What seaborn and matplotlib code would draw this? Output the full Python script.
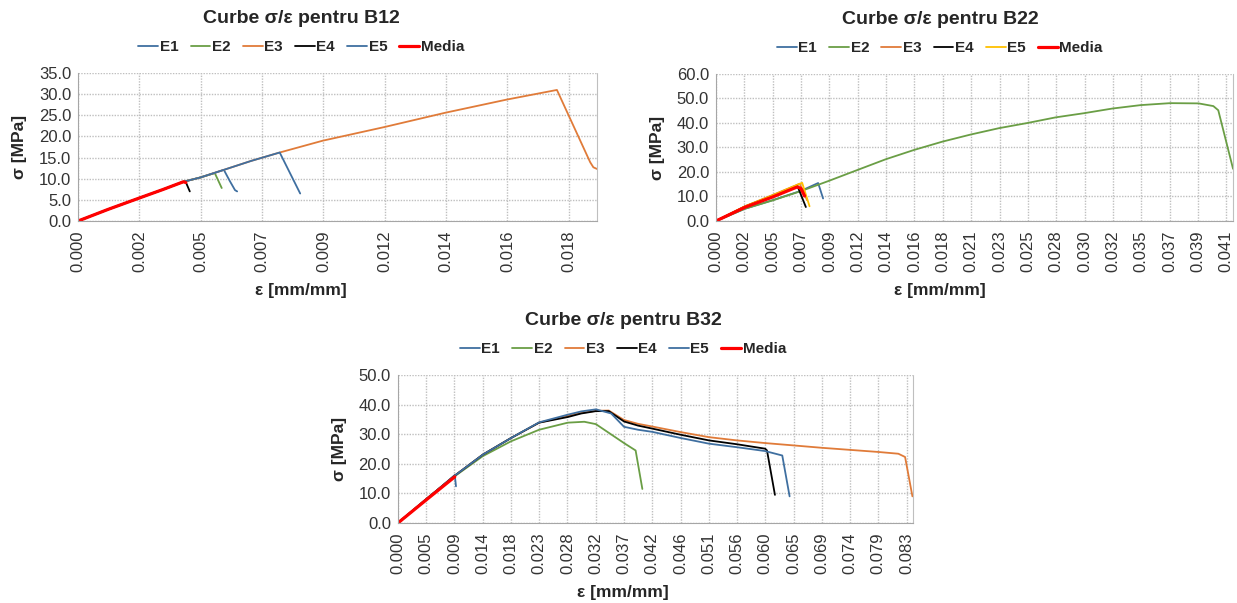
import numpy as np
import pandas as pd
import matplotlib
matplotlib.use('Agg')
import matplotlib.pyplot as plt
import seaborn as sns

# ================= CONFIGURATION =================
sns.set_style("white")
plt.rcParams['font.family'] = ['Liberation Sans', 'DejaVu Sans']

test_names = ['E1', 'E2', 'E3', 'E4', 'E5', 'Media']

# ================= DATA: B12 =================
b12_e1_x = [0, 0.00113, 0.00230, 0.00320, 0.00396, 0.00460, 0.00514, 0.00548, 0.00570, 0.00590, 0.00598]
b12_e1_y = [0, 2.75, 5.43, 7.47, 9.28, 10.3, 11.4, 12.1, 9.5, 7.3, 7.0]
b12_e2_x = [0, 0.00113, 0.00230, 0.00320, 0.00396, 0.00460, 0.00514, 0.00540]
b12_e2_y = [0, 2.75, 5.43, 7.47, 9.28, 10.3, 11.33, 7.8]
b12_e3_x = [0, 0.00113, 0.00230, 0.00320, 0.00396, 0.00460, 0.00514, 0.00548, 0.00650, 0.00758,
            0.00920, 0.01150, 0.01380, 0.01610, 0.01800, 0.01925, 0.01937, 0.01951]
b12_e3_y = [0, 2.75, 5.43, 7.47, 9.28, 10.3, 11.4, 12.1, 14.2, 16.2,
            19.0, 22.2, 25.6, 28.7, 31.0, 13.9, 12.7, 12.3]
b12_e4_x = [0, 0.00113, 0.00230, 0.00320, 0.00396, 0.00405, 0.00420]
b12_e4_y = [0, 2.75, 5.43, 7.47, 9.28, 9.2, 7.0]
b12_e5_x = [0, 0.00113, 0.00230, 0.00320, 0.00396, 0.00460, 0.00514, 0.00548, 0.00650, 0.00758, 0.00835]
b12_e5_y = [0, 2.75, 5.43, 7.47, 9.28, 10.3, 11.4, 12.1, 14.2, 16.2, 6.5]
b12_media_x = [0, 0.00113, 0.00230, 0.00320, 0.00396, 0.00405]
b12_media_y = [0, 2.75, 5.43, 7.47, 9.28, 9.1]
b12_xticklabels = ['0.000', '0.002', '0.005', '0.007', '0.009', '0.012', '0.014', '0.016', '0.018']
b12_xstep = 0.002306
b12_xmax = 0.01951
b12_yticks = [0, 5, 10, 15, 20, 25, 30, 35]

# ================= DATA: B22 =================
b22_e1_x = [0, 0.00235, 0.0046, 0.0069, 0.0083, 0.0087]
b22_e1_y = [0, 5.0, 8.5, 12.3, 15.5, 9.2]
b22_e2_x = [0, 0.00235, 0.0046, 0.0069, 0.00918, 0.01148, 0.01379, 0.01609, 0.0184, 0.0207, 0.0230,
            0.0253, 0.0276, 0.0299, 0.0322, 0.0345, 0.0369, 0.0392, 0.0404, 0.0408, 0.0420]
b22_e2_y = [0, 5.0, 8.4, 12.2, 16.4, 20.8, 25.2, 29.0, 32.4, 35.3, 37.9,
            40.0, 42.3, 44.0, 45.9, 47.3, 48.1, 48.0, 46.9, 45.2, 21.3]
b22_e3_x = [0, 0.00235, 0.0046, 0.0068, 0.0074]
b22_e3_y = [0, 6.0, 10.6, 15.2, 8.5]
b22_e4_x = [0, 0.00235, 0.0046, 0.0066, 0.0073]
b22_e4_y = [0, 5.9, 10.3, 14.5, 5.7]
b22_e5_x = [0, 0.00235, 0.0046, 0.0070, 0.0076]
b22_e5_y = [0, 6.0, 10.5, 15.6, 6.0]
b22_media_x = [0, 0.00235, 0.0046, 0.0066, 0.0069, 0.0072]
b22_media_y = [0, 5.6, 9.8, 13.9, 13.3, 10.2]
b22_xticklabels = ['0.000', '0.002', '0.005', '0.007', '0.009', '0.012', '0.014', '0.016', '0.018', '0.021',
                   '0.023', '0.025', '0.028', '0.030', '0.032', '0.035', '0.037', '0.039', '0.041']
b22_xstep = 0.002303
b22_xmax = 0.0420
b22_yticks = [0, 10, 20, 30, 40, 50, 60]

# ================= DATA: B32 =================
b32_e1_x = [0, 0.0047, 0.0093, 0.0095]
b32_e1_y = [0, 8.0, 16.2, 12.4]
b32_e2_x = [0, 0.0046, 0.0093, 0.0139, 0.0185, 0.0231, 0.0278, 0.0305, 0.0324, 0.0370, 0.0389, 0.0400]
b32_e2_y = [0, 8.0, 15.8, 22.6, 27.6, 31.5, 33.9, 34.2, 33.4, 27.0, 24.5, 11.5]
b32_e3_x = [0, 0.0046, 0.0093, 0.0139, 0.0185, 0.0231, 0.0278, 0.0300, 0.0324, 0.0345, 0.0370, 0.0393,
            0.0416, 0.0463, 0.0509, 0.0555, 0.0601, 0.0648, 0.0694, 0.0740, 0.0786, 0.0819, 0.0830, 0.0842]
b32_e3_y = [0, 8.0, 16.0, 23.1, 28.7, 33.9, 36.2, 37.2, 37.9, 38.0, 34.8, 33.5,
            32.6, 30.7, 29.0, 27.9, 27.0, 26.2, 25.4, 24.7, 24.0, 23.4, 22.3, 9.0]
b32_e4_x = [0, 0.0046, 0.0093, 0.0139, 0.0185, 0.0231, 0.0278, 0.0300, 0.0324, 0.0345, 0.0370, 0.0393,
            0.0416, 0.0463, 0.0509, 0.0555, 0.0601, 0.0604, 0.0617]
b32_e4_y = [0, 8.0, 16.0, 23.1, 28.7, 33.9, 35.8, 37.0, 37.8, 37.8, 34.3, 32.9,
            31.9, 29.8, 27.9, 26.6, 25.1, 24.5, 9.5]
b32_e5_x = [0, 0.0046, 0.0093, 0.0139, 0.0185, 0.0231, 0.0278, 0.0300, 0.0324, 0.0349, 0.0370, 0.0393,
            0.0416, 0.0463, 0.0509, 0.0555, 0.0601, 0.0629, 0.0641]
b32_e5_y = [0, 8.0, 16.0, 23.1, 28.7, 34.0, 36.6, 37.7, 38.4, 37.0, 32.5, 31.5,
            30.8, 28.7, 26.8, 25.6, 24.3, 22.8, 9.0]
b32_media_x = [0, 0.00469, 0.0093]
b32_media_y = [0, 7.9, 15.6]
b32_xticklabels = ['0.000', '0.005', '0.009', '0.014', '0.018', '0.023', '0.028', '0.032', '0.037', '0.042',
                   '0.046', '0.051', '0.056', '0.060', '0.065', '0.069', '0.074', '0.079', '0.083']
b32_xstep = 0.004625
b32_xmax = 0.0843
b32_yticks = [0, 10, 20, 30, 40, 50]

# ================= COLORS =================
blue = '#3F6FA0'
green = '#6A9E45'
orange = '#E07B39'
colors_b12 = {'E1': blue, 'E2': green, 'E3': orange, 'E4': '#000000', 'E5': blue, 'Media': '#FF0000'}
colors_b22 = {'E1': blue, 'E2': green, 'E3': orange, 'E4': '#000000', 'E5': '#FFC000', 'Media': '#FF0000'}
colors_b32 = colors_b12


def build_df(series):
    frames = []
    for name, (xs, ys) in zip(test_names, series):
        frames.append(pd.DataFrame({'strain': xs, 'stress': ys, 'test': name}))
    return pd.concat(frames, ignore_index=True)


def draw_chart(fig, rect, df, colors, title, xticklabels, xstep, xmax, yticks, cx):
    ax = fig.add_axes(rect)
    for name in test_names:
        sub = df[df['test'] == name]
        sns.lineplot(data=sub, x='strain', y='stress', ax=ax, color=colors[name],
                     linewidth=2.3 if name == 'Media' else 1.3, sort=False,
                     estimator=None, label=name)

    ax.set_xlim(0, xmax)
    ax.set_ylim(0, yticks[-1])
    ax.set_xticks(np.arange(len(xticklabels)) * xstep)
    ax.set_xticklabels(xticklabels, rotation=90)
    ax.set_yticks(yticks)
    ax.set_yticklabels([f'{v:.1f}' for v in yticks])
    ax.tick_params(axis='both', labelsize=12, labelcolor='#333333', colors='#A6A6A6')
    ax.tick_params(axis='x', length=4, width=0.8, pad=3)
    ax.tick_params(axis='y', length=0, pad=5)
    ax.grid(True, color='#BFBFBF', linestyle=(0, (1, 1)), linewidth=1.0)
    ax.spines['top'].set_visible(False)
    ax.spines['right'].set_color('#BFBFBF')
    ax.spines['right'].set_linestyle((0, (1, 1)))
    ax.spines['left'].set_color('#A6A6A6')
    ax.spines['bottom'].set_color('#A6A6A6')

    ax.set_xlabel('ε [mm/mm]', fontsize=12.5, fontweight='bold', color='#262626')
    ax.set_ylabel('σ [MPa]', fontsize=12.5, fontweight='bold', color='#262626')
    ax.xaxis.set_label_coords(cx, -0.42)
    ax.yaxis.set_label_coords(-0.098, 0.5)

    # title and legend centered on the chart area
    ax.text(cx, 1.37, title, transform=ax.transAxes, ha='center', va='center',
            fontsize=14, fontweight='bold')
    ax.legend(loc='center', bbox_to_anchor=(cx, 1.176), ncol=6, frameon=False,
              handlelength=1.3, handletextpad=0.1, columnspacing=0.8,
              prop={'weight': 'bold', 'size': 11})
    return ax


fig = plt.figure(figsize=(12.37, 6.03), dpi=100)

df_b12 = build_df([(b12_e1_x, b12_e1_y), (b12_e2_x, b12_e2_y), (b12_e3_x, b12_e3_y),
                   (b12_e4_x, b12_e4_y), (b12_e5_x, b12_e5_y), (b12_media_x, b12_media_y)])
df_b22 = build_df([(b22_e1_x, b22_e1_y), (b22_e2_x, b22_e2_y), (b22_e3_x, b22_e3_y),
                   (b22_e4_x, b22_e4_y), (b22_e5_x, b22_e5_y), (b22_media_x, b22_media_y)])
df_b32 = build_df([(b32_e1_x, b32_e1_y), (b32_e2_x, b32_e2_y), (b32_e3_x, b32_e3_y),
                   (b32_e4_x, b32_e4_y), (b32_e5_x, b32_e5_y), (b32_media_x, b32_media_y)])

draw_chart(fig, [0.0631, 0.6335, 0.4196, 0.2454], df_b12, colors_b12, 'Curbe σ/ε pentru B12',
           b12_xticklabels, b12_xstep, b12_xmax, b12_yticks, 0.43)
draw_chart(fig, [0.5788, 0.6335, 0.4180, 0.2438], df_b22, colors_b22, 'Curbe σ/ε pentru B22',
           b22_xticklabels, b22_xstep, b22_xmax, b22_yticks, 0.433)
draw_chart(fig, [0.3217, 0.1327, 0.4164, 0.2454], df_b32, colors_b32, 'Curbe σ/ε pentru B32',
           b32_xticklabels, b32_xstep, b32_xmax, b32_yticks, 0.437)

plt.savefig('out.png', dpi=100)
